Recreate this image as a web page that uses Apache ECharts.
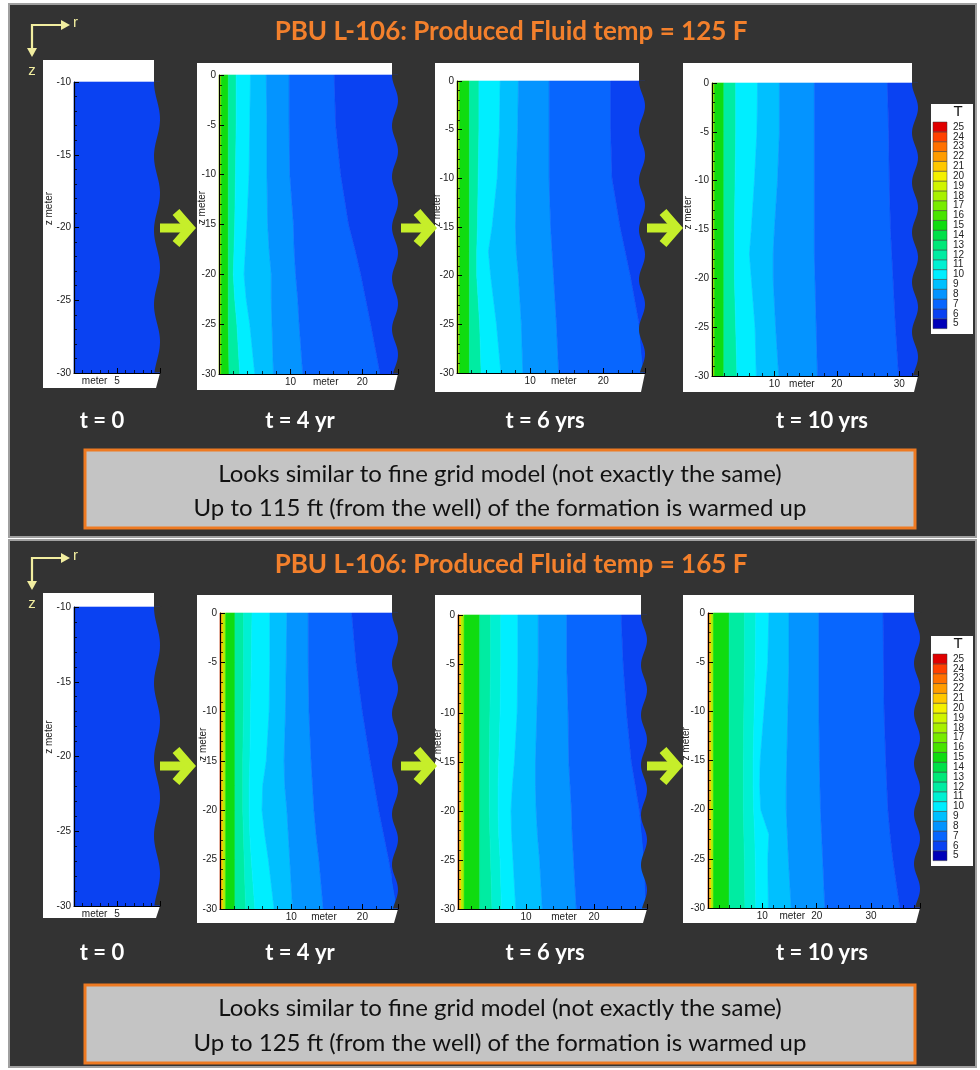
<!DOCTYPE html>
<html><head><meta charset="utf-8">
<script src="https://cdn.jsdelivr.net/npm/echarts@6/dist/echarts.min.js"></script>
<style>html,body{margin:0;padding:0;background:#fff}#c{width:980px;height:1070px}</style>
</head><body><div id="c"></div>
<script>
// ================= DATA =================
const titles = ['PBU L-106: Produced Fluid temp = 125 F', 'PBU L-106: Produced Fluid temp = 165 F'];
const timeLabels = ['t = 0', 't = 4 yr', 't = 6 yrs', 't = 10 yrs'];
const notes125 = ['Looks similar to fine grid model (not exactly the same)', 'Up to 115 ft (from the well) of the formation is warmed up'];
const notes165 = ['Looks similar to fine grid model (not exactly the same)', 'Up to 125 ft (from the well) of the formation is warmed up'];
const colorbarLevels = [5,6,7,8,9,10,11,12,13,14,15,16,17,18,19,20,21,22,23,24,25];

// depth samples (m) at which contour boundaries are read
const zLevels = [0, -5, -10, -15, -17.5, -20, -22.5, -25, -30];
const zLevelsInitial = [-10, -30];
// radial extent (m) of each panel
const rMaxTop = [10, 25, 25.7, 33];
const rMaxBottom = [10, 25, 27.8, 39];

// temperature level of each band (left -> right), and band boundaries r(m) at each zLevel
const initialLevels = [6];

const top4Levels = [18, 15, 12, 10, 9, 8, 7, 6];
const top4Bounds = [
  [0.3,0.3,0.3,0.3,0.3,0.3,0.3,0.3,0.3],
  [1.3,1.3,1.3,1.3,1.3,1.3,1.3,1.3,1.4],
  [2.4,2.4,2.3,2.2,2.1,2.0,2.2,2.5,2.9],
  [4.4,4.3,4.2,3.9,3.7,3.5,3.8,4.3,5.0],
  [6.6,6.7,6.7,6.8,7.0,7.3,7.3,7.4,7.6],
  [9.8,9.8,9.9,10.4,10.5,10.7,11.0,11.2,11.7],
  [16.1,16.3,17.0,18.1,19.0,19.8,20.5,21.2,22.5]
];
const top6Levels = [18, 15, 12, 10, 9, 8, 7, 6];
const top6Bounds = [
  [0.35,0.35,0.35,0.35,0.35,0.35,0.35,0.35,0.35],
  [1.7,1.7,1.7,1.7,1.7,1.7,1.7,1.7,1.7],
  [3.0,3.0,2.9,2.8,2.7,2.7,2.9,3.1,3.3],
  [5.9,5.8,5.5,4.8,4.3,4.6,5.0,5.4,6.0],
  [8.4,8.3,8.1,8.0,8.1,8.4,8.6,8.8,9.0],
  [12.6,12.6,12.6,12.8,13.0,13.2,13.4,13.6,13.9],
  [21.0,21.0,21.2,22.3,23.0,23.7,24.3,24.9,25.5]
];
const top10Levels = [18, 15, 12, 10, 9, 8, 7, 6];
const top10Bounds = [
  [0.4,0.4,0.4,0.4,0.4,0.4,0.4,0.4,0.4],
  [1.9,1.9,1.9,1.9,1.9,1.9,1.9,1.9,1.9],
  [3.8,3.8,3.7,3.6,3.6,3.6,3.7,3.8,4.0],
  [7.3,7.2,6.8,6.3,6.0,6.3,6.6,6.9,7.1],
  [10.8,10.8,10.5,10.0,9.8,9.8,10.0,10.2,10.7],
  [16.4,16.4,16.4,16.4,16.4,16.5,16.6,16.7,16.9],
  [28.1,28.3,28.4,28.6,28.8,29.0,29.2,29.4,29.9]
];
const bot4Levels = [24, 21, 18, 15, 12, 11, 10, 9, 8, 7, 6];
const bot4Bounds = [
  [0.2,0.2,0.2,0.2,0.2,0.2,0.2,0.2,0.2],
  [0.45,0.45,0.45,0.45,0.45,0.45,0.45,0.45,0.45],
  [0.8,0.8,0.8,0.8,0.8,0.8,0.8,0.8,0.8],
  [2.1,2.1,2.1,2.1,2.1,2.1,2.1,2.1,2.1],
  [3.3,3.3,3.3,3.2,3.2,3.2,3.3,3.4,3.6],
  [4.5,4.4,4.3,4.2,4.1,4.1,4.2,4.4,4.9],
  [7.0,7.0,6.9,6.5,6.0,5.9,6.3,6.8,7.6],
  [9.4,9.3,9.2,9.0,9.1,9.4,9.6,9.8,10.2],
  [12.4,12.4,12.5,12.8,13.0,13.2,13.5,13.9,14.5],
  [18.5,19.1,20.0,21.1,21.7,22.3,23.0,23.7,24.9]
];
const bot6Levels = [24, 21, 18, 15, 12, 11, 10, 9, 8, 7, 6];
const bot6Bounds = [
  [0.2,0.2,0.2,0.2,0.2,0.2,0.2,0.2,0.2],
  [0.5,0.5,0.5,0.5,0.5,0.5,0.5,0.5,0.5],
  [0.9,0.9,0.9,0.9,0.9,0.9,0.9,0.9,0.9],
  [3.2,3.2,3.2,3.2,3.2,3.2,3.2,3.2,3.2],
  [4.8,4.8,4.7,4.6,4.6,4.6,4.7,4.8,5.0],
  [6.3,6.3,6.2,6.0,5.9,5.9,6.0,6.2,6.4],
  [8.8,8.8,8.7,8.3,8.0,7.8,7.9,8.1,8.5],
  [11.8,11.8,11.6,11.4,11.4,11.5,11.7,12.0,12.4],
  [16.0,16.0,16.2,16.3,16.5,16.7,16.8,17.0,17.4],
  [24.0,24.3,24.8,25.5,26.1,26.7,27.1,27.4,27.7]
];
const bot10Levels = [24, 21, 18, 15, 12, 11, 10, 9, 8, 7, 6];
const bot10Bounds = [
  [0.25,0.25,0.25,0.25,0.25,0.25,0.25,0.25,0.25],
  [0.6,0.6,0.6,0.6,0.6,0.6,0.6,0.6,0.6],
  [1.0,1.0,1.0,1.0,1.0,1.0,1.0,1.0,1.0],
  [3.9,3.9,3.9,3.9,3.9,3.9,3.9,3.9,3.9],
  [6.7,6.7,6.6,6.5,6.5,6.5,6.6,6.7,6.8],
  [8.8,8.7,8.5,8.3,8.3,8.4,8.6,8.7,8.8],
  [11.2,11.0,10.3,9.6,9.5,9.7,11.2,11.0,11.1],
  [14.9,14.9,14.7,14.5,14.4,14.4,14.6,14.8,15.3],
  [20.4,20.4,20.4,20.5,20.6,20.7,20.9,21.1,21.5],
  [32.2,32.3,32.4,32.7,32.9,33.1,33.5,34.0,35.3]
];

// ================= STYLE / LAYOUT =================
const levelColors = {5:'#0000b8',6:'#0a42f2',7:'#0866fe',8:'#0494ff',9:'#00c0ff',10:'#00eeff',11:'#00f0d2',
  12:'#00eca2',13:'#00e878',14:'#00e048',15:'#10dc10',16:'#48e400',17:'#78ec00',18:'#a8f000',19:'#d0f400',
  20:'#f4f000',21:'#ffc800',22:'#ff9c00',23:'#ff7000',24:'#ff4000',25:'#e00000'};
const BG = '#333333';
const panels = [
  {levels:initialLevels, bounds:[], zs:zLevelsInitial, rMax:rMaxTop[0], xInt:5},
  {levels:top4Levels, bounds:top4Bounds, zs:zLevels, rMax:rMaxTop[1], xInt:10},
  {levels:top6Levels, bounds:top6Bounds, zs:zLevels, rMax:rMaxTop[2], xInt:10},
  {levels:top10Levels, bounds:top10Bounds, zs:zLevels, rMax:rMaxTop[3], xInt:10},
  {levels:initialLevels, bounds:[], zs:zLevelsInitial, rMax:rMaxBottom[0], xInt:5},
  {levels:bot4Levels, bounds:bot4Bounds, zs:zLevels, rMax:rMaxBottom[1], xInt:10},
  {levels:bot6Levels, bounds:bot6Bounds, zs:zLevels, rMax:rMaxBottom[2], xInt:10},
  {levels:bot10Levels, bounds:bot10Bounds, zs:zLevels, rMax:rMaxBottom[3], xInt:10}
];
const gridBoxes = [[74,82,86,291],[219,75,179,299],[457,81,188,292],[712,83,206,293],
                   [74,607,86,299],[220,613,178,296],[458,615,189,294],[708,613,212,295]];
const whiteBoxes = [[43,60,388],[197,63,390],[435,63,392],[683,63,392],[43,593,918],[197,595,923],[435,595,923],[683,595,923]];
const zNameDx = [-25,-17,-20,-24,-25,-17,-20,-22];
const zNameAt = [-18.7,-13.3,-13.3,-13.3,-18.7,-13.3,-13.3,-13.3];
const meterAt = [2.4,14.9,14.6,14.4,2.4,14.6,15.6,15.5];
const WAVE_A = 6, WAVE_P = 5.1;
const AXIS_FONT = 'Liberation Sans';

function waveX(xR, yT, P, y){ return xR - WAVE_A*(0.5+0.5*Math.cos(2*Math.PI*(y-yT)/P)); }

function bandSeries(pi){
  const p = panels[pi];
  return {
    type:'custom', xAxisIndex:pi, yAxisIndex:pi, silent:true, clip:false, z:5,
    data: p.levels.map((lv,i)=>[i, lv]),
    renderItem: function(params, api){
      const i = api.value(0), lv = api.value(1), zs = p.zs, n = p.levels.length;
      const pts = [];
      for (let k=0;k<zs.length;k++) pts.push(api.coord([i===0?0:p.bounds[i-1][k], zs[k]]));
      if (i < n-1) {
        for (let k=zs.length-1;k>=0;k--) pts.push(api.coord([p.bounds[i][k], zs[k]]));
      } else {
        pts.push(api.coord([p.rMax, zs[zs.length-1]]));
        pts.push(api.coord([p.rMax, zs[0]]));
      }
      const col = levelColors[lv];
      const band = {type:'polygon', shape:{points:pts}, style:{fill:col, stroke:col, lineWidth:0.6}};
      if (i < n-1) return band;
      // wavy break on the right edge
      const top = api.coord([p.rMax, zs[0]]), bot = api.coord([p.rMax, zs[zs.length-1]]);
      const P = WAVE_P*(bot[1]-top[1])/(zs[0]-zs[zs.length-1]);
      const wp = [];
      for (let y=top[1]-0.5; y<bot[1]-0.5; y+=1.5) wp.push([waveX(top[0], top[1], P, y), y]);
      wp.push([waveX(top[0], top[1], P, bot[1]-0.5), bot[1]-0.5]);
      wp.push([top[0]+2, bot[1]-0.5]); wp.push([top[0]+2, top[1]-0.5]);
      return {type:'group', children:[band, {type:'polygon', shape:{points:wp}, style:{fill:BG}}]};
    }
  };
}

const chart = echarts.init(document.getElementById('c'), null, {renderer:'canvas'});
const option = {
  backgroundColor:'#ffffff',
  animation:false,
  grid: gridBoxes.map(g=>({left:g[0], top:g[1], width:g[2], height:g[3], containLabel:false})),
  xAxis: panels.map((p,i)=>({
    gridIndex:i, type:'value', min:0, max:p.rMax, interval:p.xInt, z:10,
    axisLine:{show:true, onZero:false, lineStyle:{color:'#000', width:1.2}},
    axisTick:{show:true, inside:true, length:5, lineStyle:{color:'#000', width:1}},
    minorTick:{show:true, splitNumber:5, length:3, lineStyle:{color:'#000', width:0.8}},
    splitLine:{show:false}, minorSplitLine:{show:false},
    axisLabel:{margin:3, fontSize:10, color:'#222', fontFamily:AXIS_FONT, showMaxLabel:false,
      formatter: v => v===0 ? '' : String(v)}
  })),
  yAxis: panels.map((p,i)=>({
    gridIndex:i, type:'value', min:-30, max:p.zs[0], interval:5, z:10,
    axisLine:{show:true, onZero:false, lineStyle:{color:'#000', width:1.2}},
    axisTick:{show:true, inside:true, length:5, lineStyle:{color:'#000', width:1}},
    minorTick:{show:true, splitNumber:5, length:3, lineStyle:{color:'#000', width:0.8}},
    splitLine:{show:false}, minorSplitLine:{show:false},
    axisLabel:{margin:3, fontSize:10, color:'#222', fontFamily:AXIS_FONT}
  })),
  series: panels.map((p,i)=>bandSeries(i))
};
chart.setOption(option);

function txt(x, y, text, font, fill, align, valign, extra){
  return Object.assign({type:'text', x:x, y:y, z:30, silent:true,
    style:{text:text, font:font, fill:fill, textAlign:align||'center', textVerticalAlign:valign||'middle'}}, extra||{});
}

function buildGraphic(){
  const g = [];
  // dark panels
  g.push({type:'rect', z:0, silent:true, shape:{x:9,y:4,width:967,height:533}, style:{fill:BG, stroke:'#a0a0a0', lineWidth:2}});
  g.push({type:'rect', z:0, silent:true, shape:{x:9,y:540,width:967,height:527}, style:{fill:BG, stroke:'#a0a0a0', lineWidth:2}});
  const halfY = [0, 533];
  // titles
  titles.forEach((t,h)=> g.push(txt(511, 32+halfY[h], t, 'bold 26px Lato', '#f3802c')));
  // r / z direction icon
  halfY.forEach(dy=>{
    const c = [32, 25+dy], col = '#f2eea0';
    g.push({type:'polyline', z:30, silent:true, shape:{points:[[c[0]+31,c[1]],[c[0],c[1]],[c[0],c[1]+25]]}, style:{stroke:col, lineWidth:2.2, fill:null}});
    g.push({type:'polygon', z:30, silent:true, shape:{points:[[c[0]+38,c[1]],[c[0]+29,c[1]-5],[c[0]+29,c[1]+5]]}, style:{fill:col}});
    g.push({type:'polygon', z:30, silent:true, shape:{points:[[c[0],c[1]+32],[c[0]-5,c[1]+23],[c[0]+5,c[1]+23]]}, style:{fill:col}});
    g.push(txt(c[0]+41, c[1]-2, 'r', '15px Liberation Sans', col, 'left'));
    g.push(txt(c[0], c[1]+46, 'z', '15px Liberation Sans', col));
  });
  // white plot backgrounds
  whiteBoxes.forEach((wb,i)=>{
    const gb = gridBoxes[i];
    const xR = gb[0]+gb[2], yb = gb[1]+gb[3], R = xR-WAVE_A;
    g.push({type:'polygon', z:1, silent:true, shape:{points:[[wb[0],wb[1]],[R,wb[1]],[R,yb],[xR,yb],[xR-4,wb[2]],[wb[0],wb[2]]]}, style:{fill:'#ffffff'}});
  });
  // axis names
  panels.forEach((p,i)=>{
    const pb = chart.convertToPixel({gridIndex:i}, [meterAt[i], -30]);
    g.push(txt(pb[0], pb[1]+3, 'meter', '10px '+AXIS_FONT, '#222', 'center', 'top'));
    const pz = chart.convertToPixel({gridIndex:i}, [0, zNameAt[i]]);
    g.push(txt(pz[0]+zNameDx[i], pz[1], 'z meter', '10px '+AXIS_FONT, '#222', 'center', 'middle', {rotation:Math.PI/2}));
  });
  // colorbars
  const cbTop = [104, 636];
  cbTop.forEach(t0=>{
    g.push({type:'rect', z:1, silent:true, shape:{x:931,y:t0,width:42,height:230}, style:{fill:'#ffffff'}});
    g.push(txt(958, t0+8, 'T', '15px '+AXIS_FONT, '#111'));
    const sTop = t0+18, h = 9.84;
    colorbarLevels.forEach(lv=>{
      const y = sTop + (25-lv)*h;
      g.push({type:'rect', z:30, silent:true, shape:{x:933,y:y,width:14,height:h}, style:{fill:levelColors[lv], stroke:'#3a3a3a', lineWidth:0.5}});
      g.push(txt(953, y+h/2, String(lv), '10px '+AXIS_FONT, '#222', 'left'));
    });
  });
  // green arrows
  const arrowX = [177, 418, 664], arrowY = [228, 766];
  arrowY.forEach(cy=> arrowX.forEach(cx=>{
    const col = '#c6ee2a';
    g.push({type:'line', z:30, silent:true, shape:{x1:cx-17,y1:cy,x2:cx+10,y2:cy}, style:{stroke:col, lineWidth:9}});
    g.push({type:'polyline', z:30, silent:true, shape:{points:[[cx-1,cy-16],[cx+13,cy],[cx-1,cy+16]]}, style:{stroke:col, lineWidth:9, fill:null, lineJoin:'miter', lineCap:'butt'}});
  }));
  // time labels
  const tX = [102, 300, 545, 822], tY = [421, 953];
  tY.forEach(y=> timeLabels.forEach((t,i)=> g.push(txt(tX[i], y, t, 'bold 22px Lato', '#ffffff'))));
  // note boxes
  const boxes = [[450, notes125, [474, 508]], [985, notes165, [1008, 1043]]];
  boxes.forEach(b=>{
    g.push({type:'rect', z:20, silent:true, shape:{x:85,y:b[0],width:830,height:78}, style:{fill:'#c4c4c4', stroke:'#ee7a22', lineWidth:3}});
    b[1].forEach((line,k)=> g.push(txt(500, b[2][k], line, '24px Lato', '#111')));
  });
  return g;
}
chart.setOption({graphic: buildGraphic()});
</script></body></html>
